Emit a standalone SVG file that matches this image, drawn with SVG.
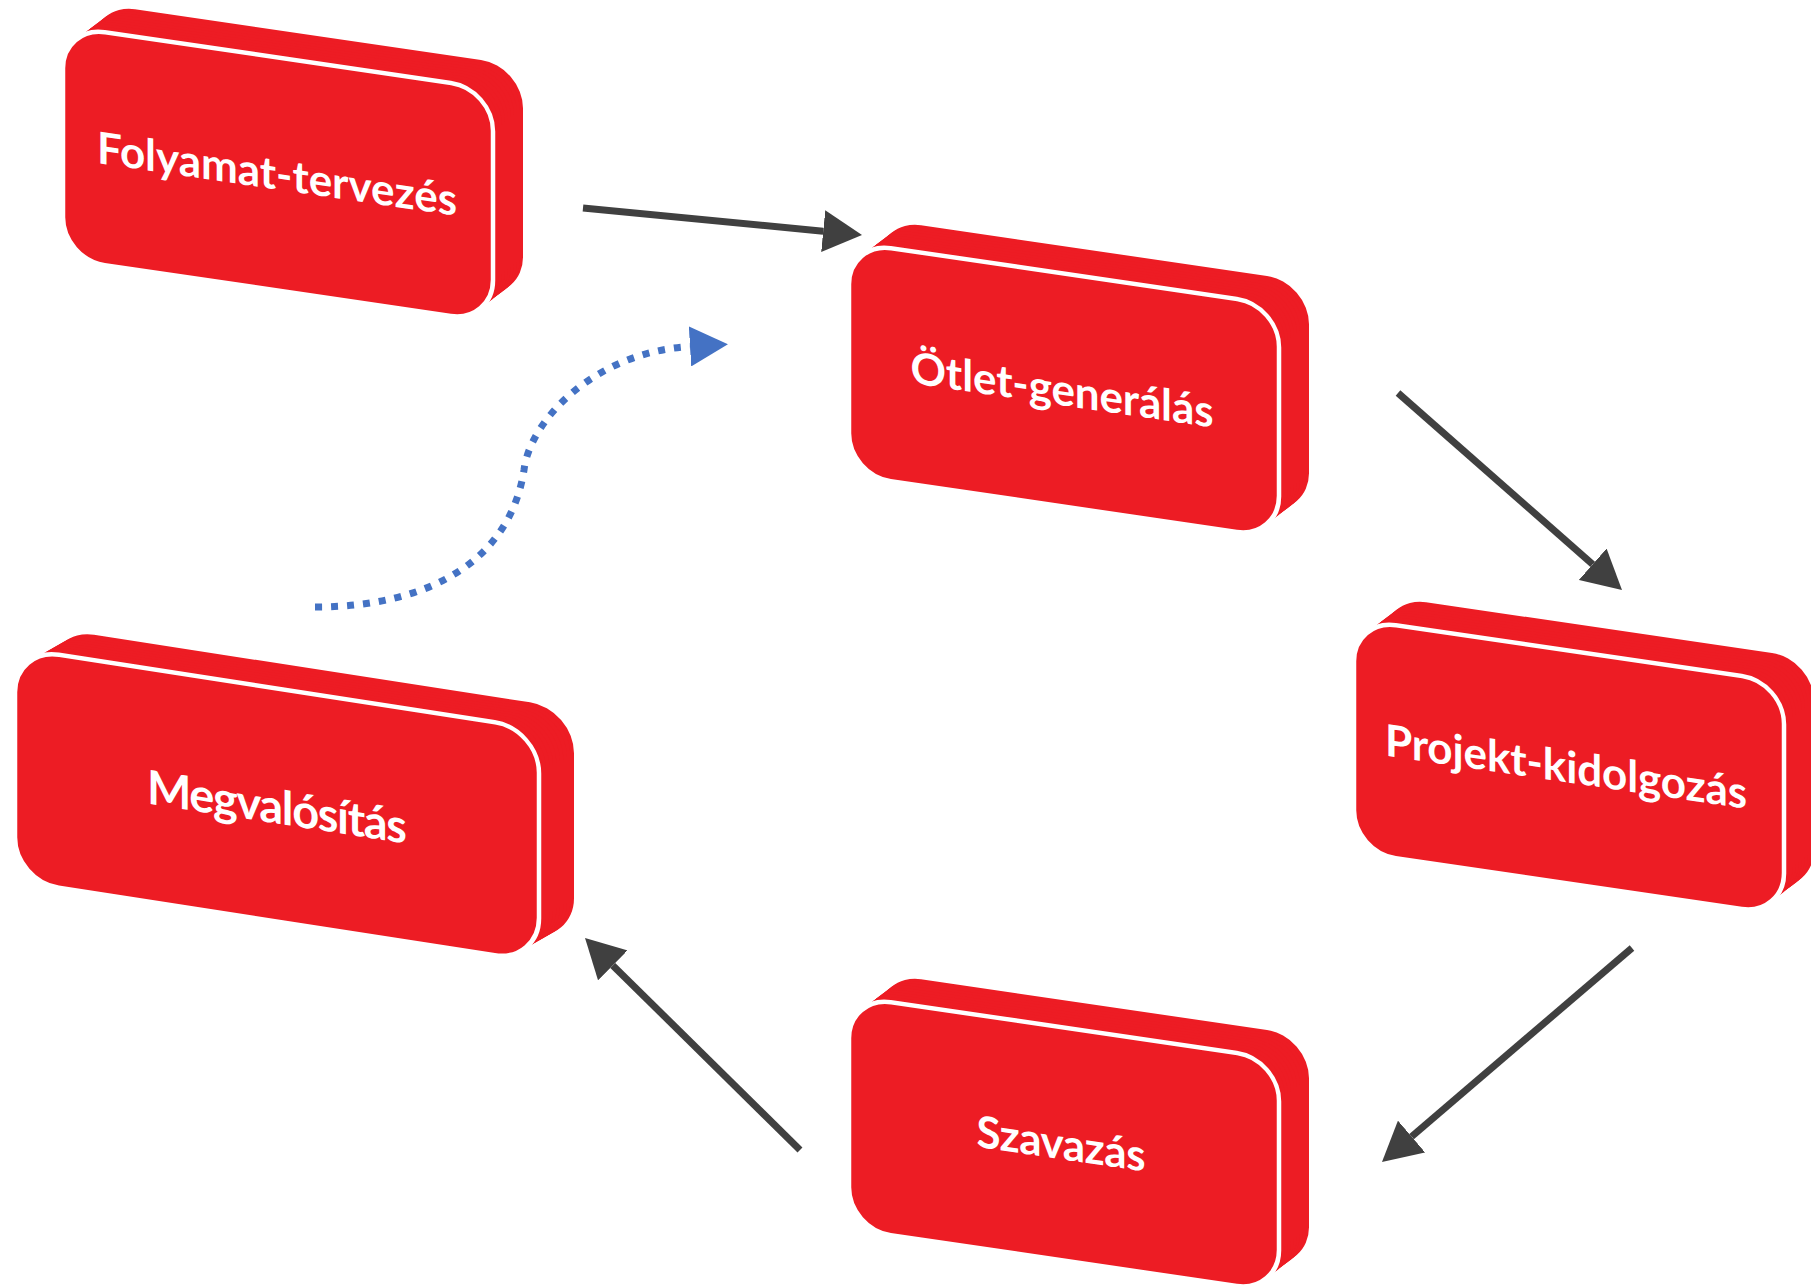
<svg xmlns="http://www.w3.org/2000/svg" xmlns:xlink="http://www.w3.org/1999/xlink" width="1811" height="1286" viewBox="0 0 1811 1286">
<style>
.ext use { fill: #ED1C24; }
.front { fill: #ED1C24; stroke: #FFFFFF; stroke-width: 4.5; }
.lbl { fill: #FFFFFF; font-family: Lato, "Open Sans", "DejaVu Sans", sans-serif; font-weight: 700; font-size: 44px; text-anchor: middle; }
.lbl-big { font-size: 47px; }
.conn { fill: none; stroke: #404040; stroke-width: 7; }
.dot { fill: none; stroke: #4472C4; stroke-width: 7; stroke-dasharray: 7 9; }
</style>
<defs>
<rect id="f1" x="0" y="0" width="430" height="233" rx="42" ry="42"/>
<rect id="f5" x="0" y="0" width="524" height="233" rx="44" ry="44"/>
<g id="ext1" class="ext">
<use href="#f1" transform="translate(30,-27.4)"/>
<use href="#f1" transform="translate(27,-24.66)"/>
<use href="#f1" transform="translate(24,-21.92)"/>
<use href="#f1" transform="translate(21,-19.18)"/>
<use href="#f1" transform="translate(18,-16.44)"/>
<use href="#f1" transform="translate(15,-13.7)"/>
<use href="#f1" transform="translate(12,-10.96)"/>
<use href="#f1" transform="translate(9,-8.22)"/>
<use href="#f1" transform="translate(6,-5.48)"/>
<use href="#f1" transform="translate(3,-2.74)"/>
</g>
<g id="ext5" class="ext">
<use href="#f5" transform="translate(35,-25.4)"/>
<use href="#f5" transform="translate(31.5,-22.86)"/>
<use href="#f5" transform="translate(28,-20.32)"/>
<use href="#f5" transform="translate(24.5,-17.78)"/>
<use href="#f5" transform="translate(21,-15.24)"/>
<use href="#f5" transform="translate(17.5,-12.7)"/>
<use href="#f5" transform="translate(14,-10.16)"/>
<use href="#f5" transform="translate(10.5,-7.62)"/>
<use href="#f5" transform="translate(7,-5.08)"/>
<use href="#f5" transform="translate(3.5,-2.54)"/>
</g>
<marker id="ah" markerUnits="userSpaceOnUse" markerWidth="40" markerHeight="42" viewBox="0 0 40 42" refX="0" refY="21" orient="auto">
<path d="M0,0 L39,21 L0,42 Z" fill="#404040"/>
</marker>
<marker id="ahb" markerUnits="userSpaceOnUse" markerWidth="40" markerHeight="40" viewBox="0 0 40 40" refX="0" refY="20" orient="auto">
<path d="M0,0 L38,20 L0,40 Z" fill="#4472C4"/>
</marker>
</defs>
<rect width="1811" height="1286" fill="#FFFFFF"/>

<g id="connectors">
<path class="conn" d="M583,208 L823.2,231.2" marker-end="url(#ah)"/>
<path class="conn" d="M1398,393 L1592.7,564.3" marker-end="url(#ah)"/>
<path class="conn" d="M1632,948 L1411.6,1136.6" marker-end="url(#ah)"/>
<path class="conn" d="M800,1150 L612.8,965.4" marker-end="url(#ah)"/>
<path class="dot" d="M315,607 C430,607 510,560 524,470 C530,420 595,352 690,346.5" marker-end="url(#ahb)"/>
</g>

<g id="node-folyamat-tervezes" transform="translate(63,26) skewY(8.36)">
<use href="#ext1"/>
<use href="#f1" class="front"/>
<text class="lbl" x="214" y="132" textLength="360">Folyamat-tervezés</text>
</g>

<g id="node-otlet-generalas" transform="translate(849,242) skewY(8.36)">
<use href="#ext1"/>
<use href="#f1" class="front"/>
<text class="lbl" x="213" y="132" textLength="303">Ötlet-generálás</text>
</g>

<g id="node-projekt-kidolgozas" transform="translate(1354,619) skewY(8.36)">
<use href="#ext1"/>
<use href="#f1" class="front"/>
<text class="lbl" x="212" y="132" textLength="362">Projekt-kidolgozás</text>
</g>

<g id="node-szavazas" transform="translate(849,996) skewY(8.36)">
<use href="#ext1"/>
<use href="#f1" class="front"/>
<text class="lbl" x="212" y="132" textLength="169">Szavazás</text>
</g>

<g id="node-megvalositas" transform="translate(15,648) skewY(8.8)">
<use href="#ext5"/>
<use href="#f5" class="front"/>
<text class="lbl lbl-big" x="262" y="135" textLength="260">Megvalósítás</text>
</g>
</svg>
